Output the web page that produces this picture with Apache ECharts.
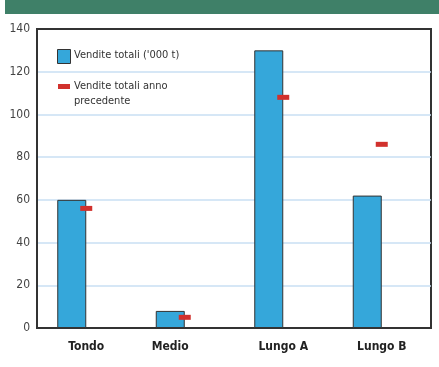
<!DOCTYPE html>
<html>
<head>
<meta charset="utf-8">
<script src="https://cdn.jsdelivr.net/npm/echarts@6/dist/echarts.min.js"></script>
<style>
  html, body { margin: 0; padding: 0; background: #fff; }
  #chart { width: 439px; height: 367px; }
</style>
</head>
<body>
<div id="chart"></div>
<script>
  // dati
  var categories = ['Tondo', 'Medio', 'Lungo A', 'Lungo B'];
  var venditeTotali = [60, 8, 130, 62];
  var annoPrecedente = [56, 5, 108, 86];
  var yTicks = { min: 0, max: 140, step: 20 };

  var font = '"DejaVu Sans Condensed", "Liberation Sans Narrow", sans-serif';

  var chart = echarts.init(document.getElementById('chart'));
  chart.setOption({
    animation: false,
    backgroundColor: '#fff',
    grid: {
      left: 37, right: 8, top: 29, bottom: 39,
      show: true, borderColor: '#333', borderWidth: 2,
      backgroundColor: 'transparent'
    },
    xAxis: {
      type: 'category',
      data: categories,
      axisLine: { show: true, lineStyle: { color: '#333', width: 2 } },
      axisTick: { show: false },
      axisLabel: {
        margin: 13,
        fontFamily: font, fontSize: 12, fontWeight: 'bold', color: '#222',
        formatter: function (v) {
          // "Medio" sta un po' a sinistra nell'originale
          return v === 'Medio' ? '{m|' + v + '}' : v;
        },
        rich: {
          m: { fontFamily: font, fontSize: 12, fontWeight: 'bold', color: '#222', padding: [0, 29, 0, 0] }
        }
      }
    },
    yAxis: {
      type: 'value',
      min: yTicks.min, max: yTicks.max, interval: yTicks.step,
      axisLine: { show: true, lineStyle: { color: '#333', width: 2 } },
      axisTick: { show: false },
      axisLabel: { margin: 7, fontFamily: font, fontSize: 12, color: '#444' },
      splitLine: { showMinLine: false, showMaxLine: false, lineStyle: { color: '#c9dff3', width: 1.5 } }
    },
    series: [
      {
        name: "Vendite totali ('000 t)",
        type: 'bar',
        barWidth: 29,
        barGap: '0%',
        data: venditeTotali,
        itemStyle: { color: '#35a7da', borderColor: '#333', borderWidth: 1 },
        z: 2
      },
      {
        // segnaposto vuoto per spostare le barre a sinistra
        type: 'bar',
        barWidth: 29,
        data: categories.map(function () { return '-'; })
      },
      {
        name: 'Vendite totali anno precedente',
        type: 'scatter',
        symbol: 'rect',
        symbolSize: [12, 5],
        data: annoPrecedente,
        itemStyle: { color: '#d1312d', opacity: 1 },
        z: 3
      }
    ],
    graphic: [
      // barra verde in alto
      { type: 'rect', left: 5, top: 0, shape: { width: 434, height: 14 }, style: { fill: '#3f8068' } },
      // legenda
      { type: 'rect', left: 57, top: 49, shape: { width: 13, height: 14 },
        style: { fill: '#35a7da', stroke: '#333', lineWidth: 1 } },
      { type: 'text', left: 74, top: 50,
        style: { text: "Vendite totali ('000 t)", font: '11px ' + font, fill: '#333' } },
      { type: 'rect', left: 58, top: 84, shape: { width: 12, height: 5 }, style: { fill: '#d1312d' } },
      { type: 'text', left: 74, top: 79,
        style: { text: 'Vendite totali anno\nprecedente', font: '11px ' + font, fill: '#333', lineHeight: 15 } }
    ]
  });
</script>
</body>
</html>
